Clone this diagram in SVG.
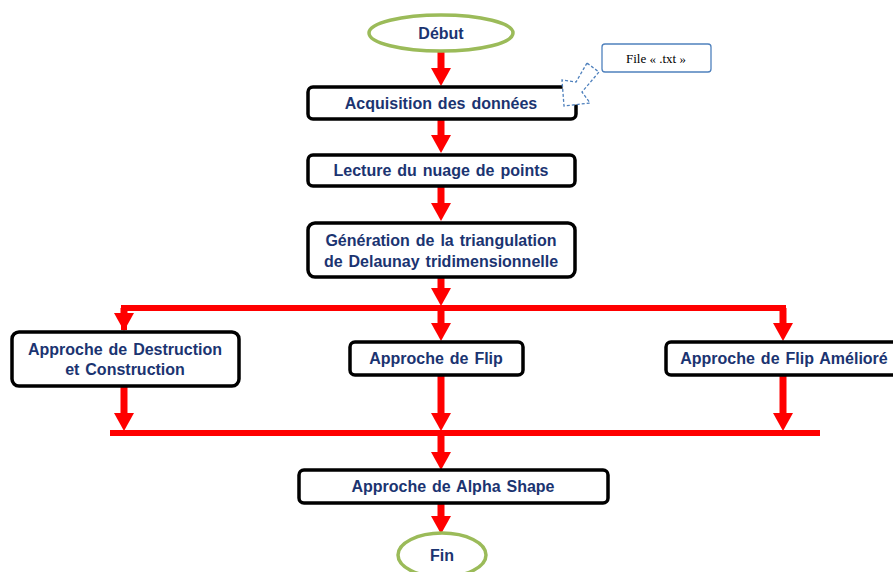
<svg xmlns="http://www.w3.org/2000/svg" width="893" height="572" viewBox="0 0 893 572">
  <style>
    .box { fill: #ffffff; stroke: #000000; stroke-width: 3.5; }
    .oval { fill: #ffffff; stroke: #9BBB59; stroke-width: 3.5; }
    .lbl { font-family: "Liberation Sans", Arial, sans-serif; font-weight: bold; font-size: 16px; word-spacing: 1.5px; fill: #1B3471; text-anchor: middle; }
    .shaft { stroke: #FF0000; stroke-width: 7; fill: none; }
    .bar { stroke: #FF0000; stroke-width: 6; fill: none; }
    .head { fill: #FF0000; }
    .note { fill: #ffffff; stroke: #4F81BD; stroke-width: 1.3; }
    .noteText { font-family: "Liberation Serif", "Times New Roman", serif; font-size: 13px; fill: #000000; text-anchor: middle; }
  </style>
  <defs>
    <!-- downward arrowhead, tip at origin -->
    <polygon id="ah" class="head" points="-10,-18 10,-18 0,0"/>
  </defs>
  <rect width="893" height="572" fill="#ffffff"/>

  <g id="connectors">
    <!-- Début -> Acquisition -->
    <line class="shaft" x1="441" y1="52" x2="441" y2="70"/>
    <use href="#ah" x="441" y="86"/>
    <!-- Acquisition -> Lecture -->
    <line class="shaft" x1="441" y1="120" x2="441" y2="138"/>
    <use href="#ah" x="441" y="153"/>
    <!-- Lecture -> Génération -->
    <line class="shaft" x1="441" y1="186" x2="441" y2="205"/>
    <use href="#ah" x="441" y="221"/>
    <!-- Génération -> branch bar -->
    <line class="shaft" x1="441" y1="277" x2="441" y2="290"/>
    <use href="#ah" x="441" y="306"/>
    <!-- branch bar -->
    <polyline class="bar" points="124,330 124,308 783,308 783,325"/>
    <line class="shaft" x1="124" y1="308" x2="124" y2="314"/>
    <use href="#ah" x="124" y="331"/>
    <line class="shaft" x1="441" y1="308" x2="441" y2="324"/>
    <use href="#ah" x="441" y="341"/>
    <line class="shaft" x1="783" y1="308" x2="783" y2="324"/>
    <use href="#ah" x="783" y="341"/>
    <!-- branches -> merge bar -->
    <line class="shaft" x1="124" y1="387" x2="124" y2="414"/>
    <use href="#ah" x="124" y="431"/>
    <line class="shaft" x1="441" y1="375" x2="441" y2="414"/>
    <use href="#ah" x="441" y="431"/>
    <line class="shaft" x1="783" y1="375" x2="783" y2="414"/>
    <use href="#ah" x="783" y="431"/>
    <line class="bar" x1="110" y1="433" x2="820" y2="433"/>
    <!-- merge bar -> Alpha Shape -->
    <line class="shaft" x1="441" y1="433" x2="441" y2="454"/>
    <use href="#ah" x="441" y="470"/>
    <!-- Alpha Shape -> Fin -->
    <line class="shaft" x1="441" y1="503" x2="441" y2="518"/>
    <use href="#ah" x="441" y="534"/>
  </g>

  <g id="debut">
    <ellipse class="oval" cx="441" cy="33" rx="72" ry="18"/>
    <text class="lbl" x="441" y="39">Début</text>
  </g>

  <g id="acquisition">
    <rect class="box" x="308" y="87" width="268" height="32" rx="5"/>
    <text class="lbl" x="441" y="109">Acquisition  des données</text>
  </g>

  <g id="file-note">
    <polygon class="note" points="587,63 576,82 562,80 564,106 590,103 582,92 599,72" stroke-dasharray="3,2"/>
    <rect class="note" x="602" y="44" width="109" height="28" rx="3"/>
    <text class="noteText" x="656" y="63">File « .txt »</text>
  </g>

  <g id="lecture">
    <rect class="box" x="308" y="155" width="267" height="31" rx="5"/>
    <text class="lbl" x="441" y="176">Lecture du nuage de points</text>
  </g>

  <g id="generation">
    <rect class="box" x="308" y="223" width="267" height="54" rx="7"/>
    <text class="lbl" x="441" y="246">Génération de la triangulation</text>
    <text class="lbl" x="441" y="267">de Delaunay tridimensionnelle</text>
  </g>

  <g id="destruction">
    <rect class="box" x="12" y="332" width="227" height="54" rx="7"/>
    <text class="lbl" x="125" y="355">Approche de Destruction</text>
    <text class="lbl" x="125" y="375">et Construction</text>
  </g>

  <g id="flip">
    <rect class="box" x="350" y="342" width="173" height="33" rx="5"/>
    <text class="lbl" x="436" y="364">Approche de Flip</text>
  </g>

  <g id="flip-ameliore">
    <rect class="box" x="666" y="342" width="240" height="33" rx="5"/>
    <text class="lbl" x="784" y="364">Approche de Flip Amélioré</text>
  </g>

  <g id="alpha-shape">
    <rect class="box" x="299" y="470" width="309" height="33" rx="5"/>
    <text class="lbl" x="453" y="492">Approche de Alpha Shape</text>
  </g>

  <g id="fin">
    <ellipse class="oval" cx="442" cy="555" rx="44" ry="22"/>
    <text class="lbl" x="442" y="561">Fin</text>
  </g>
</svg>
